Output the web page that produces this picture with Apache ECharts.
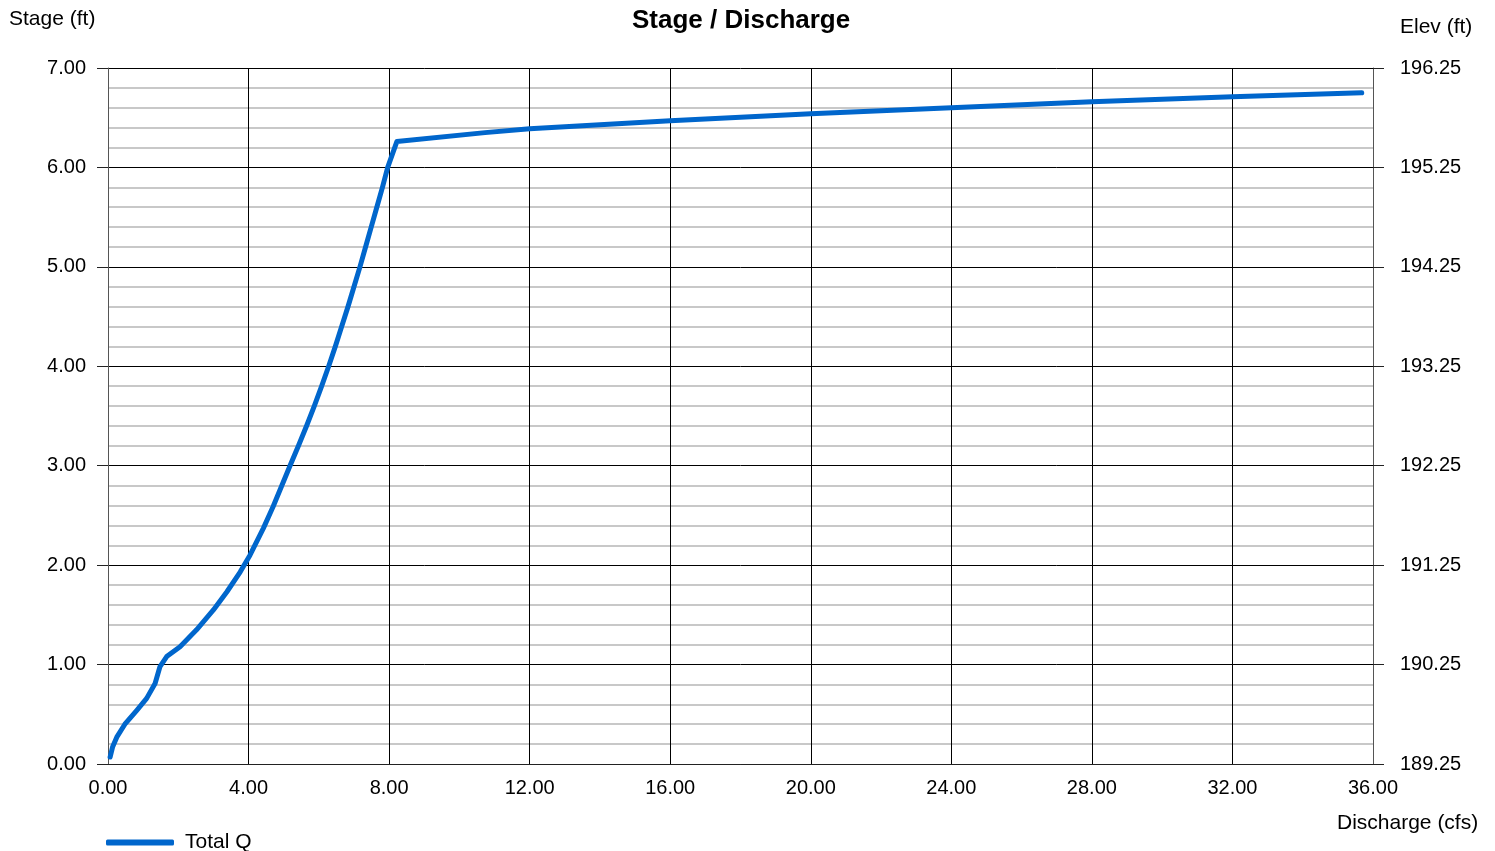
<!DOCTYPE html>
<html>
<head>
<meta charset="utf-8">
<script src="https://cdn.jsdelivr.net/npm/echarts@6/dist/echarts.min.js"></script>
<style>html,body{margin:0;padding:0;background:#fff}#c{width:1495px;height:851px}</style>
</head>
<body>
<div id="c"></div>
<script>
const titleText = 'Stage / Discharge';
const seriesName = 'Total Q';
const discharge = [0.06, 0.13, 0.25, 0.48, 0.82, 1.10, 1.34, 1.48, 1.67, 2.05, 2.52, 3.00, 3.38, 3.76, 4.04, 4.42, 4.70, 5.18, 5.42, 5.65, 5.87, 6.08, 6.28, 6.47, 6.65, 6.83, 7.00, 7.17, 7.33, 7.49, 7.65, 7.81, 7.96, 8.22, 10.73, 12.0, 16.0, 20.0, 24.0, 28.0, 32.0, 35.68];
const stage =     [0.07, 0.17, 0.27, 0.40, 0.54, 0.66, 0.81, 0.98, 1.08, 1.18, 1.35, 1.55, 1.73, 1.93, 2.10, 2.37, 2.59, 3.00, 3.20, 3.40, 3.60, 3.80, 4.00, 4.20, 4.40, 4.60, 4.80, 5.00, 5.20, 5.40, 5.60, 5.80, 6.00, 6.26, 6.35, 6.39, 6.47, 6.54, 6.60, 6.66, 6.71, 6.75];
const elevBase = 189.25;
const xMin = 0, xMax = 36, xStep = 4;
const yMin = 0, yMax = 7, yStep = 1;

const font = 'Arial, "Liberation Sans", sans-serif';
const chart = echarts.init(document.getElementById('c'), null, {renderer: 'canvas'});
const pts = discharge.map((q, i) => [q, stage[i]]);
const yCommon = {
  type: 'value', min: yMin, max: yMax, interval: yStep,
  axisLine: {show: true, lineStyle: {color: '#555', width: 1}},
  axisTick: {show: true, length: 11, lineStyle: {color: '#222', width: 1}},
  minorTick: {show: false, splitNumber: 5},
};
chart.setOption({
  animation: false,
  title: {text: titleText, left: 627, top: 3, textStyle: {fontFamily: font, fontSize: 26, fontWeight: 'bold', color: '#000'}},
  legend: {left: 106, top: 832, padding: 0, itemWidth: 68, itemHeight: 6, itemGap: 10, icon: 'roundRect',
    textStyle: {fontFamily: font, fontSize: 21, color: '#000', padding: [0, 0, 0, 6]}, data: [seriesName]},
  grid: {left: 108, right: 122, top: 68, bottom: 87, containLabel: false},
  graphic: [
    {type: 'text', left: 9, top: 9, style: {text: 'Stage (ft)', font: '21px ' + font, fill: '#000'}},
    {type: 'text', left: 1400, top: 17, style: {text: 'Elev (ft)', font: '21px ' + font, fill: '#000'}},
    {type: 'text', left: 1337, top: 813, style: {text: 'Discharge (cfs)', font: '21px ' + font, fill: '#000'}}
  ],
  xAxis: {
    type: 'value', min: xMin, max: xMax, interval: xStep,
    axisLine: {show: true, lineStyle: {color: '#222', width: 1}},
    axisTick: {show: false},
    axisLabel: {margin: 14, fontFamily: font, fontSize: 20, color: '#000', formatter: v => v.toFixed(2)},
    splitLine: {show: true, lineStyle: {color: '#000', width: 1}}
  },
  yAxis: [
    Object.assign({}, yCommon, {
      position: 'left',
      axisLabel: {margin: 22, fontFamily: font, fontSize: 20, color: '#000', formatter: v => v.toFixed(2)},
      splitLine: {show: true, lineStyle: {color: '#000', width: 1}},
      minorSplitLine: {show: true, lineStyle: {color: '#c8c8c8', width: 2}}
    }),
    Object.assign({}, yCommon, {
      position: 'right',
      axisLabel: {margin: 27, fontFamily: font, fontSize: 20, color: '#000', formatter: v => (v + elevBase).toFixed(2)},
      splitLine: {show: false}
    })
  ],
  series: [{
    name: seriesName, type: 'line', data: pts, showSymbol: false, symbol: 'none',
    smooth: false, z: 5,
    lineStyle: {color: '#0066cc', width: 5, cap: 'round', join: 'round'},
    itemStyle: {color: '#0066cc'}
  }]
});
</script>
</body>
</html>
